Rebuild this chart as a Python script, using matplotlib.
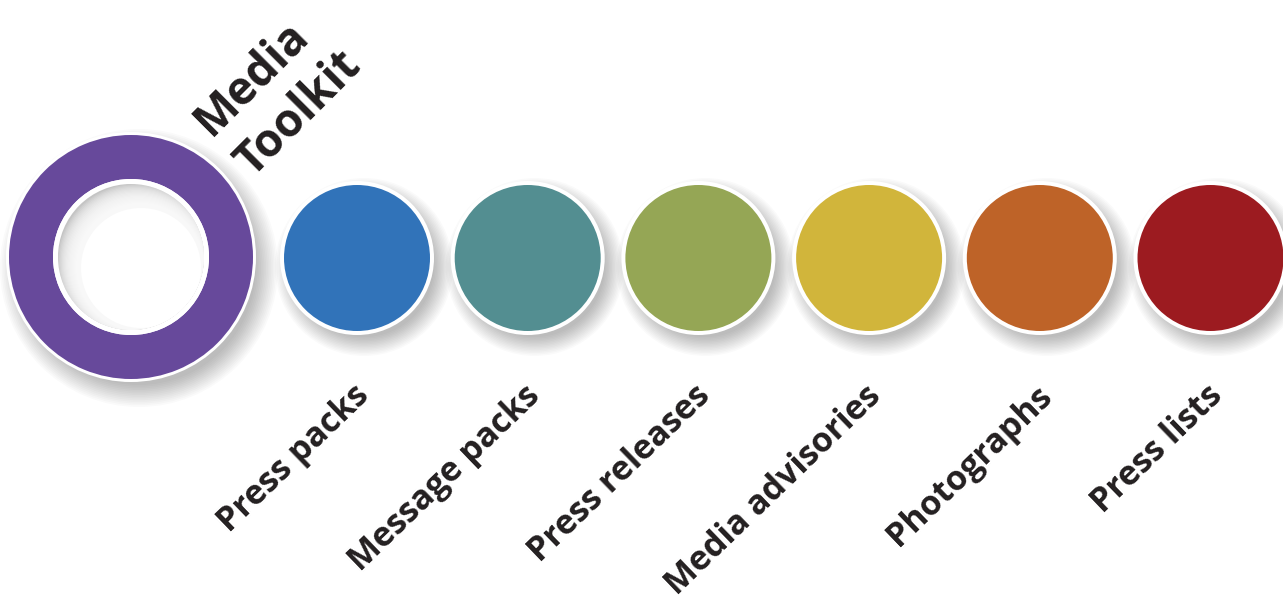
import matplotlib
matplotlib.use("Agg")
import matplotlib.pyplot as plt
from matplotlib.patches import Circle, Wedge

# chart content
title_lines = ["Media", "Toolkit"]
items = ["Press packs", "Message packs", "Press releases",
         "Media advisories", "Photographs", "Press lists"]
item_colors = ["#3173B9", "#538E91", "#95A655", "#D1B53B", "#BE6328", "#9C1B20"]
hub_color = "#67499B"

W, H = 1283, 601
fig = plt.figure(figsize=(W / 100, H / 100), dpi=100)
ax = fig.add_axes([0, 0, 1, 1])
ax.set_xlim(0, W)
ax.set_ylim(H, 0)
ax.set_aspect("equal")
ax.axis("off")

plt.rcParams["font.family"] = ["Open Sans", "DejaVu Sans"]
txt_color = "#231F20"


def shadow(x, y, r, dx=7, dy=9, spread=12, z=1):
    # soft drop shadow made of stacked translucent discs
    n = 14
    for k in range(n):
        rr = r + spread - k * (spread * 1.7 / n)
        ax.add_patch(Circle((x + dx, y + dy), rr, color="#000000",
                            alpha=0.018, lw=0, zorder=z))


# hub ring
hx, hy = 131, 257
R_out, R_in = 122, 78
shadow(hx, hy, R_out + 3, dx=8, dy=11, spread=14)
ax.add_patch(Circle((hx, hy), R_out + 3, color="white", lw=0, zorder=2))
ax.add_patch(Wedge((hx, hy), R_out, 0, 360, width=R_out - R_in,
                   color=hub_color, lw=0, zorder=3))
ax.add_patch(Circle((hx, hy), R_in, color="white", lw=0, zorder=3))
# inner shadow in the hole
hole = Circle((hx, hy), R_in - 5, color="#c4c4c4", lw=0, zorder=4)
ax.add_patch(hole)
for k in range(20):
    c = Circle((hx + 10 - k * 0.3, hy + 11 - k * 0.35), R_in - 16 + k * 0.8,
               color="white", alpha=0.14, lw=0, zorder=5)
    c.set_clip_path(hole)
    ax.add_patch(c)
c = Circle((hx + 10, hy + 11), R_in - 18, color="white", lw=0, zorder=6)
c.set_clip_path(hole)
ax.add_patch(c)

# item circles
x0, step, r = 357, 170.7, 73
for i, (name, col) in enumerate(zip(items, item_colors)):
    cx = x0 + i * step
    cy = 258
    shadow(cx, cy, r + 4, z=1 + 0.01 * i)
    ax.add_patch(Circle((cx, cy), r + 4, color="white", lw=0, zorder=7))
    ax.add_patch(Circle((cx, cy), r, color=col, lw=0, zorder=8))
    ax.text(cx + 7, cy + 133, name, rotation=44, rotation_mode="anchor",
            ha="right", va="center", fontsize=24.5, fontweight="bold",
            color=txt_color, zorder=10)

# hub title
ax.text(278, 93, "\n".join(title_lines), rotation=45, rotation_mode="anchor",
        ha="center", va="center", multialignment="left", fontsize=33,
        fontweight="bold", color=txt_color, linespacing=1.3, zorder=10)

fig.savefig("out.png", dpi=100, facecolor="white")
